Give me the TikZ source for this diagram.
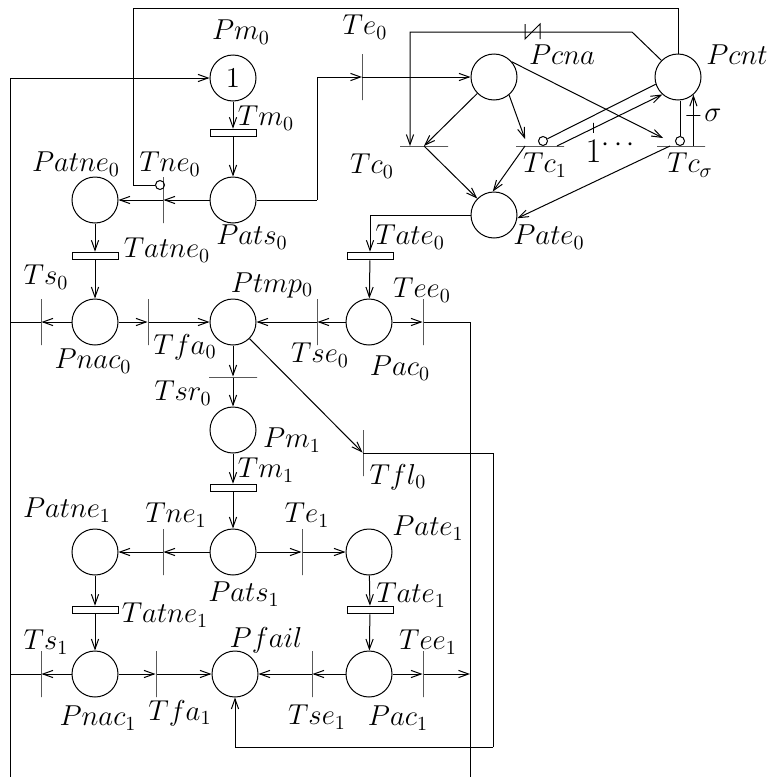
\documentclass[tikz,border=0pt]{standalone}
\usetikzlibrary{arrows.meta,calc}
\begin{document}
\begin{tikzpicture}[x=0.5pt,y=-0.5pt,line width=0.5pt,
  >={Straight Barb[length=5pt,width=3.6pt]},
  place/.style={circle,draw,minimum size=23pt,inner sep=0pt},
  vbar/.style={draw,minimum width=0pt,minimum height=23pt,inner sep=0pt},
  hbar/.style={draw,minimum width=24pt,minimum height=0pt,inner sep=0pt},
  rbar/.style={draw,minimum width=23pt,minimum height=3.8pt,inner sep=0pt},
  inhib/.style={circle,draw,minimum size=4.5pt,inner sep=0pt},
  tickv/.style={draw,minimum width=0pt,minimum height=5pt,inner sep=0pt},
  tickh/.style={draw,minimum width=7pt,minimum height=0pt,inner sep=0pt},
  lab/.style={inner sep=0pt,font=\fontsize{14.5}{16}\selectfont}]
\useasboundingbox (0,0) rectangle (767,777);
% places
\node[place] (Pm0) at (233,78) {\fontsize{14.5}{16}\selectfont $1$};
\node[place] (Pats0) at (233,200) {};
\node[place] (Patne0) at (95,200) {};
\node[place] (Pcna) at (494,77) {};
\node[place] (Pcnt) at (678,77) {};
\node[place] (Pate0) at (494,215) {};
\node[place] (Pnac0) at (95,322) {};
\node[place] (Ptmp0) at (233,322) {};
\node[place] (Pac0) at (369,322) {};
\node[place] (Pm1) at (233,430) {};
\node[place] (Pats1) at (233,552) {};
\node[place] (Patne1) at (95,552) {};
\node[place] (Pate1) at (369,552) {};
\node[place] (Pnac1) at (95,674) {};
\node[place] (Pfail) at (235,674) {};
\node[place] (Pac1) at (369,674) {};
% transitions
\node[rbar] (Tm0) at (233,133) {};
\node[vbar] (Tne0) at (163,200) {};
\node[vbar] (Te0) at (362,77) {};
\node[hbar] (Tc0) at (424,146) {};
\node[hbar] (Tc1) at (540,146) {};
\node[hbar] (TcS) at (681,146) {};
\node[rbar] (Tate0) at (370,256) {};
\node[rbar] (Tatne0) at (95,256) {};
\node[vbar] (Ts0) at (41,322) {};
\node[vbar] (Tfa0) at (148,322) {};
\node[vbar] (Tse0) at (317,322) {};
\node[vbar] (Tee0) at (423,322) {};
\node[hbar] (Tsr0) at (233,377) {};
\node[vbar] (Tfl0) at (363,453) {};
\node[rbar] (Tm1) at (233,488) {};
\node[vbar] (Tne1) at (163,552) {};
\node[vbar] (Te1) at (302,552) {};
\node[rbar] (Tatne1) at (95,610) {};
\node[rbar] (Tate1) at (370,610) {};
\node[vbar] (Ts1) at (41,674) {};
\node[vbar] (Tfa1) at (156,674) {};
\node[vbar] (Tse1) at (312,674) {};
\node[vbar] (Tee1) at (423,674) {};
% inhibitor circles
\node[inhib] (iTne0) at (160,185) {};
\node[inhib] (iTc1) at (543,141) {};
\node[inhib] (iTcS) at (680,141) {};
% helper coordinates
\coordinate (L0) at (10,777);
\coordinate (R0) at (470,777);
\coordinate (c1) at (317,200);
\coordinate (t1) at (678,8);
\coordinate (t2) at (133,8);
\coordinate (k1) at (632,32);
\coordinate (k2) at (410,32);
\coordinate (f1) at (493,747);
% labels
\node[lab] (lPm0) at (241,32) {$Pm_0$};
\node[lab] (lTm0) at (266,118) {$Tm_0$};
\node[lab] (lPatne0) at (76,164) {$Patne_0$};
\node[lab] (lTne0) at (170,164) {$Tne_0$};
\node[lab] (lPats0) at (252,237) {$Pats_0$};
\node[lab] (lTe0) at (365,27) {$Te_0$};
\node[lab] (lPcna) at (562,55) {$Pcna$};
\node[lab] (lPcnt) at (737,55) {$Pcnt$};
\node[lab] (lTc0) at (372,166) {$Tc_0$};
\node[lab] (lTc1) at (545,165) {$Tc_1$};
\node[lab] (lTcS) at (690,165) {$Tc_\sigma$};
\node[lab] (lPate0) at (549,237) {$Pate_0$};
\node[lab] (lTate0) at (410,237) {$Tate_0$};
\node[lab] (lTatne0) at (167,250) {$Tatne_0$};
\node[lab] (lTs0) at (46,277) {$Ts_0$};
\node[lab] (lPtmp0) at (272,285) {$Ptmp_0$};
\node[lab] (lTee0) at (422,290) {$Tee_0$};
\node[lab] (lPnac0) at (93,361) {$Pnac_0$};
\node[lab] (lTfa0) at (185,347) {$Tfa_0$};
\node[lab] (lTse0) at (320,355) {$Tse_0$};
\node[lab] (lPac0) at (400,368) {$Pac_0$};
\node[lab] (lTsr0) at (183,393) {$Tsr_0$};
\node[lab] (lPm1) at (292,440) {$Pm_1$};
\node[lab] (lTfl0) at (398,477) {$Tfl_0$};
\node[lab] (lTm1) at (266,470) {$Tm_1$};
\node[lab] (lPatne1) at (67,510) {$Patne_1$};
\node[lab] (lTne1) at (176,515) {$Tne_1$};
\node[lab] (lTe1) at (307,515) {$Te_1$};
\node[lab] (lPate1) at (428,528) {$Pate_1$};
\node[lab] (lPats1) at (244,594) {$Pats_1$};
\node[lab] (lTate1) at (411,595) {$Tate_1$};
\node[lab] (lTatne1) at (165,615) {$Tatne_1$};
\node[lab] (lTs1) at (46,642) {$Ts_1$};
\node[lab] (lPfail) at (266,640) {$Pfail$};
\node[lab] (lTee1) at (428,642) {$Tee_1$};
\node[lab] (lPnac1) at (98,718) {$Pnac_1$};
\node[lab] (lTfa1) at (180,713) {$Tfa_1$};
\node[lab] (lTse1) at (317,717) {$Tse_1$};
\node[lab] (lPac1) at (398,718) {$Pac_1$};
\node[lab] (lsig) at (713,115) {$\sigma$};
\node[lab,anchor=base west] (lone) at (585,162) {{\fontsize{17}{19}\selectfont$1$}\raisebox{5.5pt}{$\cdots$}};
% --- arcs: top part
\draw[->] (L0) |- (Pm0);
\draw[->] (Pm0) -- (Tm0);
\draw[->] (Tm0) -- (Pats0);
\draw[->] (Pats0) -- (Tne0);
\draw[->] (Tne0) -- (Patne0);
\draw (Pats0) -- (c1);
\draw[->] (c1) |- (Te0.center);
\draw[->] (Te0.center) -- (Te0.center -| Pcna.west);
\draw (Pcnt.north) -- (t1) -- (t2) |- (iTne0.west);
\draw[->] (Pcnt.135) -- (k1) -- (k2) -- (k2 |- Tc0.center);
\draw (525,24) -- (525,39) -- (540,24) -- (540,39);
\draw[->] (Pcna) -- (Tc0.center);
\draw[->] (Pcna.310) -- ($(Tc1.center)+(-15,-7)$);
\draw[->] (Pcna.40) -- ($(TcS.center)+(-18,-8)$);
\draw[->] (Tc0.center) -- (Pate0);
\draw[->] ($(Tc1.center)+(-15,0)$) -- (Pate0.93);
\draw[->] ($(TcS.center)+(-11,0)$) -- (Pate0.352);
\draw (iTc1) -- (Pcnt.198);
\draw[->] ($(Tc1.center)+(17,0)$) -- node[pos=0.35,tickv] (w1) {} (Pcnt.228);
\draw (iTcS.north) -- (iTcS.north |- Pcnt.south);
\draw[->] (Pcnt.311 |- TcS.center) -- node[pos=0.6,tickh] (w2) {} (Pcnt.311);
\draw[->] (Pate0) -| (Tate0);
\draw[->] (Tate0) -- (Pac0);
\draw[->] (Patne0) -- (Tatne0);
\draw[->] (Tatne0) -- (Pnac0);
% row 0
\draw[->] (Pnac0) -- (Ts0);
\draw (Ts0) -- (Ts0 -| L0);
\draw[->] (Pnac0) -- (Tfa0);
\draw[->] (Tfa0) -- (Ptmp0);
\draw[->] (Pac0) -- (Tse0);
\draw[->] (Tse0) -- (Ptmp0);
\draw[->] (Pac0) -- (Tee0);
\draw (Tee0) -| (R0);
\draw[->] (Ptmp0) -- (Tsr0);
\draw[->] (Tsr0) -- (Pm1);
\draw[->] (Ptmp0) -- (Tfl0);
\draw (Tfl0.center) -| (f1);
\draw[->] (f1) -| (Pfail);
\draw[->] (Pm1) -- (Tm1);
\draw[->] (Tm1) -- (Pats1);
% row 1
\draw[->] (Pats1) -- (Tne1);
\draw[->] (Tne1) -- (Patne1);
\draw[->] (Pats1) -- (Te1);
\draw[->] (Te1) -- (Pate1);
\draw[->] (Patne1) -- (Tatne1);
\draw[->] (Tatne1) -- (Pnac1);
\draw[->] (Pate1) -- (Tate1);
\draw[->] (Tate1) -- (Pac1);
% row 2
\draw[->] (Pnac1) -- (Ts1);
\draw (Ts1) -- (Ts1 -| L0);
\draw[->] (Pnac1) -- (Tfa1);
\draw[->] (Tfa1) -- (Pfail);
\draw[->] (Pac1) -- (Tse1);
\draw[->] (Tse1) -- (Pfail);
\draw[->] (Pac1) -- (Tee1);
\draw[->] (Tee1) -- (Tee1 -| R0);
\end{tikzpicture}
\end{document}
